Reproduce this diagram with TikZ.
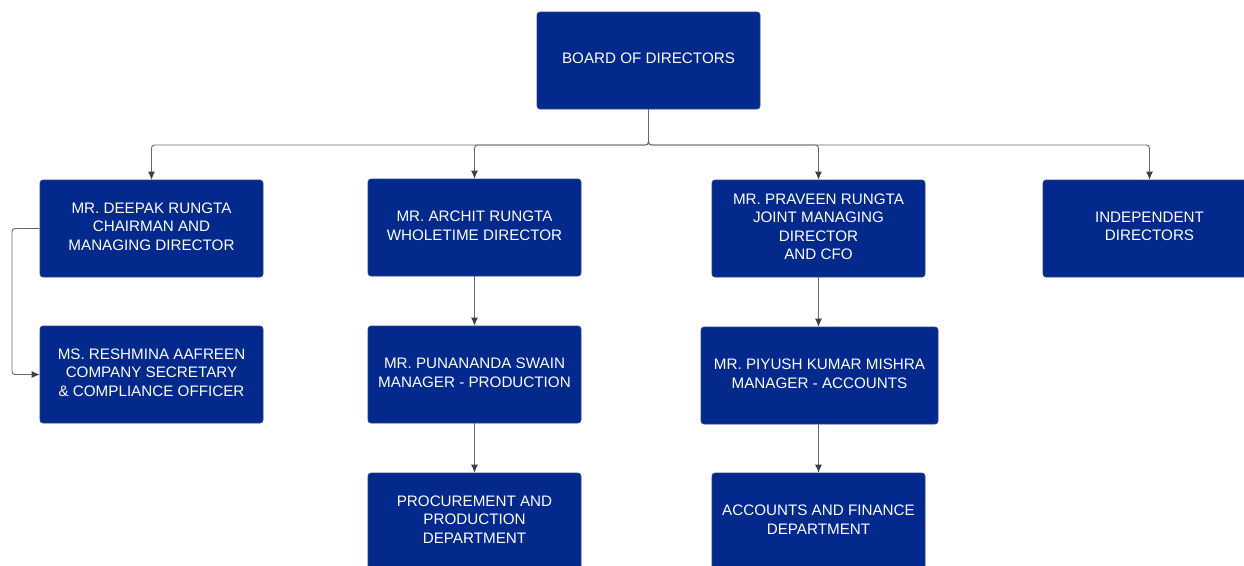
\documentclass[tikz,border=0pt]{standalone}
\usepackage{fontspec}
\setmainfont{Liberation Sans}
\usepackage{xcolor}
\usetikzlibrary{arrows.meta}

\definecolor{boxblue}{RGB}{2,41,139}
\definecolor{linegray}{RGB}{98,104,113}
\definecolor{tipgray}{RGB}{58,64,74}

\begin{document}
\begin{tikzpicture}[x=1pt,y=-1pt,
  box/.style={fill=boxblue,draw=boxblue!70!gray,line width=0.6pt,rounded corners=3pt,
    minimum width=213pt,minimum height=97pt,inner sep=0pt,align=center,text=white,
    text depth=4pt,font=\fontsize{15.2}{18.5}\selectfont},
  arr/.style={-{Latex[length=8pt,width=7pt,color=tipgray]},draw=linegray,line width=0.9pt,rounded corners=3pt}]

\clip (0,0) rectangle (1244,565);

\node[box,minimum width=223pt](1) at(648.5,60.5){BOARD OF DIRECTORS};
\node[box,minimum width=223pt](2) at(151.5,228.5){MR. DEEPAK RUNGTA\\CHAIRMAN AND\\MANAGING DIRECTOR};
\node[box](3) at(474.5,227.5){MR. ARCHIT RUNGTA\\WHOLETIME DIRECTOR};
\node[box](4) at(818.5,228.5){MR. PRAVEEN RUNGTA\\JOINT MANAGING\\DIRECTOR\\AND CFO};
\node[box](5) at(1149.5,228.5){INDEPENDENT\\DIRECTORS};
\node[box,minimum width=223pt](6) at(151.5,374.5){MS. RESHMINA AAFREEN\\COMPANY SECRETARY\\\& COMPLIANCE OFFICER};
\node[box](7) at(474.5,374.5){MR. PUNANANDA SWAIN\\MANAGER - PRODUCTION};
\node[box,minimum width=237pt](8) at(819.5,375.5){MR. PIYUSH KUMAR MISHRA\\MANAGER - ACCOUNTS};
\node[box](9) at(474.5,521.5){PROCUREMENT AND\\PRODUCTION\\DEPARTMENT};
\node[box](10) at(818.5,521.5){ACCOUNTS AND FINANCE\\DEPARTMENT};

\coordinate (bus) at (648.5,145);
\coordinate (side) at (12,374.5);

\draw[arr](1.south)--(bus)-|(2.north);
\draw[arr](1.south)--(bus)-|(3.north);
\draw[arr](1.south)--(bus)-|(4.north);
\draw[arr](1.south)--(bus)-|(5.north);
\draw[arr](2.west)-|(side)--(6.west);
\draw[arr](3)--(7);
\draw[arr](4.south)--(4.south|-8.north);
\draw[arr](7)--(9);
\draw[arr](8.south-|10.north)--(10.north);

\end{tikzpicture}
\end{document}
